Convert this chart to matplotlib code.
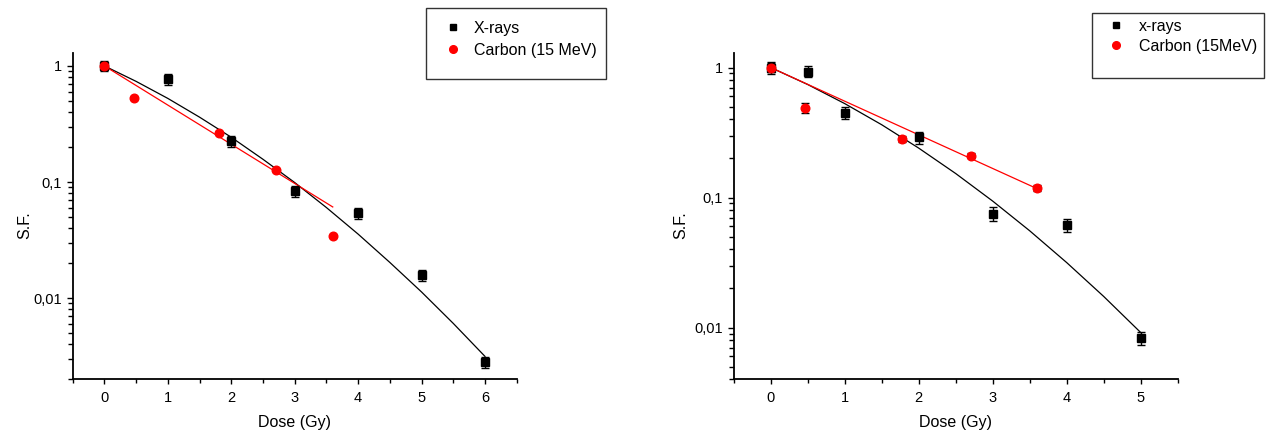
import matplotlib
matplotlib.use('Agg')
import matplotlib.pyplot as plt
from matplotlib.ticker import FixedLocator, FixedFormatter, MultipleLocator, NullFormatter
from matplotlib.patches import Rectangle
from matplotlib.lines import Line2D

plt.rcParams['font.family'] = ['Liberation Sans', 'DejaVu Sans']

# ---------------- data ----------------
# Left panel
left_xray_dose = [0, 1, 2, 3, 4, 5, 6]
left_xray_sf = [1.0, 0.77, 0.226, 0.083, 0.054, 0.0157, 0.0028]
left_xray_err = [0.10, 0.08, 0.025, 0.009, 0.006, 0.0017, 0.0003]
left_carbon_dose = [0, 0.46, 1.8, 2.7, 3.6]
left_carbon_sf = [1.0, 0.525, 0.267, 0.127, 0.034]
left_xray_fit_dose = [0, 0.5, 1, 1.5, 2, 2.5, 3, 3.5, 4, 4.5, 5, 5.5, 6]
left_xray_fit_sf = [1.0, 0.736, 0.525, 0.362, 0.243, 0.157, 0.099, 0.0603,
                    0.0356, 0.0203, 0.0113, 0.00606, 0.00315]
left_carbon_fit_dose = [0, 3.6]
left_carbon_fit_sf = [1.0, 0.061]
left_labels = ['X-rays', 'Carbon (15 MeV)']

# Right panel
right_xray_dose = [0, 0.5, 1, 2, 3, 4, 5]
right_xray_sf = [1.0, 0.93, 0.449, 0.29, 0.0753, 0.0613, 0.0083]
right_xray_err = [0.11, 0.09, 0.045, 0.03, 0.009, 0.007, 0.001]
right_carbon_dose = [0, 0.46, 1.78, 2.7, 3.6]
right_carbon_sf = [1.0, 0.49, 0.281, 0.21, 0.118]
right_carbon_err = [0.08, 0.04, 0.015, 0.01, 0.006]
right_xray_fit_dose = [0, 0.5, 1, 1.5, 2, 2.5, 3, 3.5, 4, 4.5, 5]
right_xray_fit_sf = [1.0, 0.740, 0.528, 0.363, 0.240, 0.153, 0.0939, 0.0555,
                     0.0316, 0.01735, 0.00916]
right_carbon_fit_dose = [0, 3.6]
right_carbon_fit_sf = [1.0, 0.117]
right_labels = ['x-rays', 'Carbon (15MeV)']

sf_ticks = [1, 0.1, 0.01]
sf_tick_labels = ['1', '0,1', '0,01']
left_dose_ticks = [0, 1, 2, 3, 4, 5, 6]
left_dose_tick_labels = ['0', '1', '2', '3', '4', '5', '6']
right_dose_ticks = [0, 1, 2, 3, 4, 5]
right_dose_tick_labels = ['0', '1', '2', '3', '4', '5']

x_label = 'Dose (Gy)'
y_label = 'S.F.'

# ---------------- figure ----------------
W, H = 1267, 433
fig = plt.figure(figsize=(W / 100, H / 100), dpi=100)
fig.patch.set_facecolor('white')


def fx(px):
    return px / W


def fy(py):
    return (H - py) / H


def style_axes(ax, xlim, ylim, xticks, xticklabels):
    ax.set_yscale('log')
    ax.set_xlim(*xlim)
    ax.set_ylim(*ylim)
    for s in ('top', 'right'):
        ax.spines[s].set_visible(False)
    for s in ('left', 'bottom'):
        ax.spines[s].set_linewidth(1.3)
        ax.spines[s].set_color('black')
    ax.xaxis.set_major_locator(FixedLocator(xticks))
    ax.xaxis.set_major_formatter(FixedFormatter(xticklabels))
    ax.xaxis.set_minor_locator(MultipleLocator(0.5))
    ax.yaxis.set_major_locator(FixedLocator(sf_ticks))
    ax.yaxis.set_major_formatter(FixedFormatter(sf_tick_labels))
    ax.yaxis.set_minor_locator(matplotlib.ticker.LogLocator(base=10, subs=range(2, 10), numticks=20))
    ax.yaxis.set_minor_formatter(NullFormatter())
    ax.tick_params(axis='both', which='major', direction='out', width=1.0,
                   labelsize=10.5, pad=3.5)
    ax.tick_params(axis='x', which='major', length=3.8, pad=4.5)
    ax.tick_params(axis='y', which='major', length=4.4)
    ax.tick_params(axis='x', which='minor', direction='out', width=1.0, length=2.6)
    ax.tick_params(axis='y', which='minor', direction='out', width=1.0, length=3.4)
    ax.set_xlabel(x_label, fontsize=11.5)
    ax.set_ylabel(y_label, fontsize=11.5)


def legend_box(x0, y0, x1, y1):
    fig.patches.append(Rectangle((fx(x0), fy(y1)), fx(x1) - fx(x0), (y1 - y0) / H,
                                 transform=fig.transFigure, fill=False,
                                 edgecolor='#333333', linewidth=1.0))


sq = dict(marker='s', color='black', markersize=5.4, linestyle='none')
ci = dict(marker='o', color='red', markersize=6.2, linestyle='none')

# ---------- left panel ----------
axL = fig.add_axes([fx(72.7), fy(379.3), fx(516.7) - fx(72.7), (379.3 - 52.7) / H])
axL.plot(left_xray_fit_dose, left_xray_fit_sf, color='black', lw=0.9, zorder=2)
axL.plot(left_carbon_fit_dose, left_carbon_fit_sf, color='red', lw=0.9, zorder=2)
axL.errorbar(left_xray_dose, left_xray_sf, yerr=left_xray_err, ecolor='black',
             elinewidth=1.0, capsize=3, capthick=1.0, zorder=3, **sq)
axL.plot(left_carbon_dose, left_carbon_sf, zorder=4, **ci)
style_axes(axL, (-0.5, 6.5), (0.002, 1.3), left_dose_ticks, left_dose_tick_labels)
axL.yaxis.set_label_coords(-0.09, 0.472)
axL.xaxis.set_label_coords(0.5, -0.11)

hL = [Line2D([], [], marker='s', color='black', markersize=4.8, linestyle='none'),
      Line2D([], [], marker='o', color='red', markersize=5.5, linestyle='none')]
axL.legend(hL, left_labels, loc='upper left', bbox_to_anchor=(fx(445), fy(20.5)),
           bbox_transform=fig.transFigure, frameon=False, fontsize=11.5,
           borderpad=0, borderaxespad=0, handlelength=1.0, handletextpad=0.8,
           labelspacing=0.44)
legend_box(426, 8, 606, 79)

# ---------- right panel ----------
axR = fig.add_axes([fx(733.7), fy(379.3), fx(1177.7) - fx(733.7), (379.3 - 52.7) / H])
axR.plot(right_xray_fit_dose, right_xray_fit_sf, color='black', lw=0.9, zorder=2)
axR.plot(right_carbon_fit_dose, right_carbon_fit_sf, color='red', lw=0.9, zorder=2)
axR.errorbar(right_xray_dose, right_xray_sf, yerr=right_xray_err, ecolor='black',
             elinewidth=1.0, capsize=3, capthick=1.0, zorder=3, **sq)
axR.errorbar(right_carbon_dose, right_carbon_sf, yerr=right_carbon_err, ecolor='black',
             elinewidth=1.0, capsize=3, capthick=1.0, zorder=4, **ci)
style_axes(axR, (-0.5, 5.5), (0.004, 1.3), right_dose_ticks, right_dose_tick_labels)
axR.yaxis.set_label_coords(-0.103, 0.472)
axR.xaxis.set_label_coords(0.5, -0.11)

hR = [Line2D([], [], marker='s', color='black', markersize=4.8, linestyle='none'),
      Line2D([], [], marker='o', color='red', markersize=5.5, linestyle='none')]
axR.legend(hR, right_labels, loc='upper left', bbox_to_anchor=(fx(1108), fy(19.0)),
           bbox_transform=fig.transFigure, frameon=False, fontsize=11.5,
           borderpad=0, borderaxespad=0, handlelength=1.0, handletextpad=0.95,
           labelspacing=0.31)
legend_box(1091.7, 12.7, 1264.3, 77.7)

fig.savefig('out.png', dpi=100, facecolor='white')
